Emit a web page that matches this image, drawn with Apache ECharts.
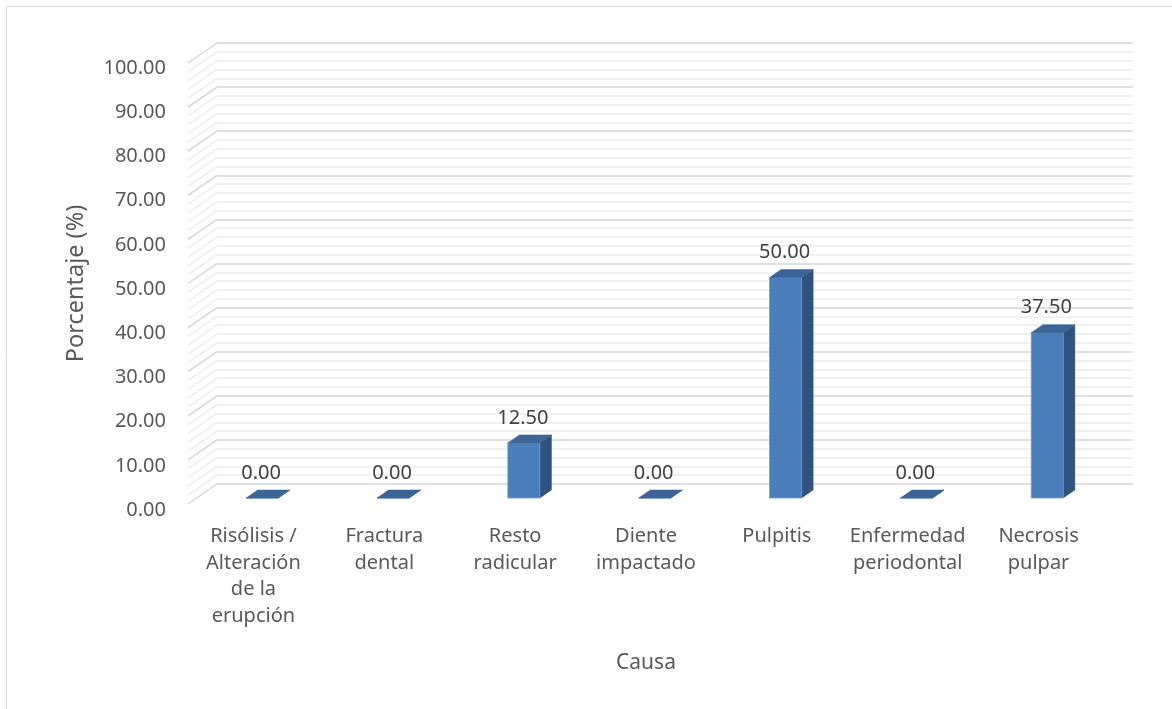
<!DOCTYPE html>
<html>
<head>
<meta charset="utf-8">
<script src="https://cdn.jsdelivr.net/npm/echarts@6/dist/echarts.min.js"></script>
<style>html,body{margin:0;padding:0;background:#fff}#c{width:1172px;height:709px}</style>
</head>
<body>
<div id="c"></div>
<script>
const categories = ['Risólisis /\nAlteración\nde la\nerupción', 'Fractura\ndental', 'Resto\nradicular', 'Diente\nimpactado', 'Pulpitis', 'Enfermedad\nperiodontal', 'Necrosis\npulpar'];
const values = [0.00, 0.00, 12.50, 0.00, 50.00, 0.00, 37.50];
const yMin = 0, yMax = 100, yInterval = 10, yMinorSplit = 5;

const DX = 29, DY = -20;       // depth offset front -> back wall
const D0 = 0.3, D1 = 0.7;      // bar depth range
const HALF = 16;               // half bar width
const FONT = 'Noto Sans';

const chart = echarts.init(document.getElementById('c'));

function sideWall(params, api) {
  const cs = params.coordSys;
  const children = [];
  const step = yInterval / yMinorSplit;
  for (let k = 0; k <= Math.round((yMax - yMin) / step); k++) {
    const v = yMin + k * step;
    const p = api.coord([0, v]);
    const major = k % yMinorSplit === 0;
    children.push({
      type: 'line',
      shape: {x1: cs.x, y1: p[1], x2: cs.x + DX, y2: p[1] + DY},
      style: {stroke: major ? '#d6d6d6' : '#ededed', lineWidth: 1.5}
    });
  }
  return {type: 'group', children};
}

function bar3d(params, api) {
  const i = api.value(0), v = api.value(1);
  const pb = api.coord([i, 0]);
  const pt = api.coord([i, v]);
  const ox = DX * D0, oy = DY * D0;
  const bx = DX * (D1 - D0), by = DY * (D1 - D0);
  const x0 = pb[0] - HALF + ox, x1 = pb[0] + HALF + ox;
  const yb = pb[1] + oy, yt = pt[1] + oy;
  return {
    type: 'group',
    children: [
      {type: 'polygon', shape: {points: [[x1, yb], [x1 + bx, yb + by], [x1 + bx, yt + by], [x1, yt]]},
        style: {fill: '#30527f', stroke: '#30527f', lineWidth: 0.5}},
      {type: 'polygon', shape: {points: [[x0, yb], [x1, yb], [x1, yt], [x0, yt]]},
        style: {fill: '#4a7ebb', stroke: '#6d98cc', lineWidth: 0.8}},
      {type: 'polygon', shape: {points: [[x0, yt], [x1, yt], [x1 + bx, yt + by], [x0 + bx, yt + by]]},
        style: {fill: '#3b6596', stroke: '#3b6596', lineWidth: 0.5}},
      {type: 'text', style: {text: v.toFixed(2), x: pb[0] + ox - 1, y: yt + by - 17,
        align: 'center', verticalAlign: 'middle', fill: '#404040', font: '20px "' + FONT + '"'}}
    ]
  };
}

const option = {
  animation: false,
  backgroundColor: '#ffffff',
  graphic: [{type: 'rect', shape: {x: 6.5, y: 6.5, width: 1300, height: 900},
    style: {fill: 'none', stroke: '#d9d9d9', lineWidth: 1}, silent: true, z: -10}],
  grid: [
    {left: 188, right: 68, top: 63, bottom: 205},
    {left: 217, right: 39, top: 43, bottom: 225},
    {left: 188, right: 68, top: 68, bottom: 199}
  ],
  xAxis: [
    {type: 'category', gridIndex: 0, data: categories,
      axisLine: {show: false}, axisTick: {show: false}, splitLine: {show: false},
      axisLabel: {interval: 0, margin: 19, color: '#595959', fontFamily: FONT, fontSize: 20, lineHeight: 26.7},
      name: 'Causa', nameLocation: 'middle', nameGap: 159,
      nameTextStyle: {color: '#595959', fontFamily: FONT, fontSize: 21, verticalAlign: 'middle'}},
    {type: 'category', gridIndex: 1, data: categories, show: false},
    {type: 'category', gridIndex: 2, data: categories, show: false}
  ],
  yAxis: [
    {type: 'value', gridIndex: 0, min: yMin, max: yMax, interval: yInterval,
      axisLine: {show: false}, axisTick: {show: false}, splitLine: {show: false}, axisLabel: {show: false},
      name: 'Porcentaje (%)', nameLocation: 'middle', nameGap: 112,
      nameTextStyle: {color: '#595959', fontFamily: FONT, fontSize: 23.5, verticalAlign: 'middle'}},
    {type: 'value', gridIndex: 1, min: yMin, max: yMax, interval: yInterval,
      axisLine: {show: false}, axisTick: {show: false}, axisLabel: {show: false},
      splitLine: {show: true, lineStyle: {color: '#d6d6d6', width: 1.5}},
      minorTick: {show: false, splitNumber: yMinorSplit},
      minorSplitLine: {show: true, lineStyle: {color: '#ededed', width: 1.5}}},
    {type: 'value', gridIndex: 2, min: yMin, max: yMax, interval: yInterval,
      axisLine: {show: false}, axisTick: {show: false}, splitLine: {show: false},
      axisLabel: {margin: 22, color: '#595959', fontFamily: FONT, fontSize: 20,
        formatter: v => v.toFixed(2)}}
  ],
  series: [
    {type: 'custom', xAxisIndex: 0, yAxisIndex: 0, data: [[0, 0]], renderItem: sideWall, silent: true, z: 1},
    {type: 'custom', xAxisIndex: 0, yAxisIndex: 0, data: values.map((v, i) => [i, v]), renderItem: bar3d, z: 5}
  ]
};
chart.setOption(option);
</script>
</body>
</html>
